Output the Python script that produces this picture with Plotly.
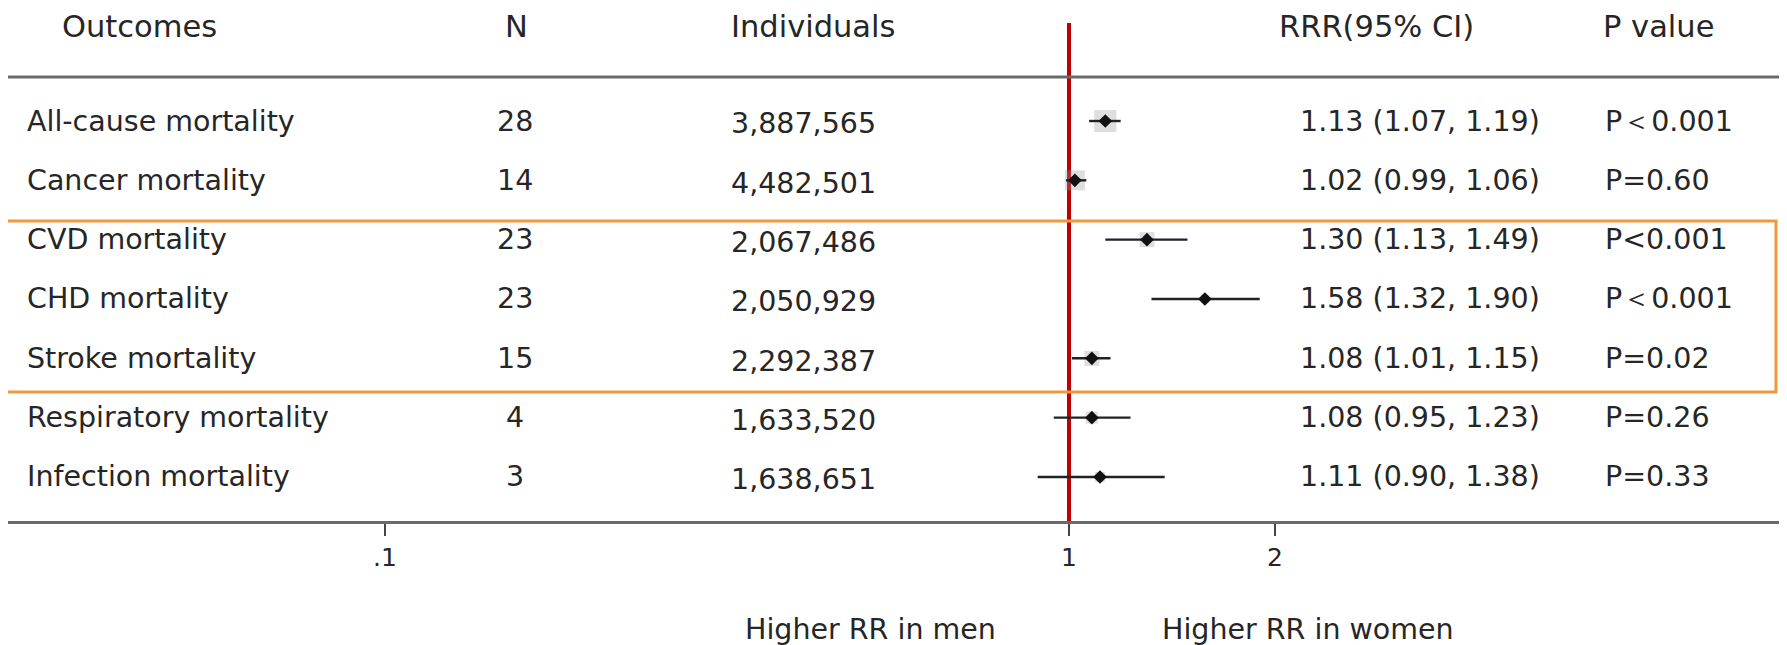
import plotly.graph_objects as go

# ---------------- data ----------------
outcomes = ["All-cause mortality", "Cancer mortality", "CVD mortality", "CHD mortality",
            "Stroke mortality", "Respiratory mortality", "Infection mortality"]
n_studies = ["28", "14", "23", "23", "15", "4", "3"]
individuals = ["3,887,565", "4,482,501", "2,067,486", "2,050,929", "2,292,387", "1,633,520", "1,638,651"]
rrr = [1.13, 1.02, 1.30, 1.58, 1.08, 1.08, 1.11]
ci_low = [1.07, 0.99, 1.13, 1.32, 1.01, 0.95, 0.90]
ci_high = [1.19, 1.06, 1.49, 1.90, 1.15, 1.23, 1.38]
p_values = ["P\uff1c0.001", "P=0.60", "P<0.001", "P\uff1c0.001", "P=0.02", "P=0.26", "P=0.33"]
headers = ["Outcomes", "N", "Individuals", "RRR(95% CI)", "P value"]
tick_vals = [0.1, 1, 2]
tick_text = [".1", "1", "2"]
side_labels = ["Higher RR in men", "Higher RR in women"]

# ---------------- layout helpers ----------------
# the page body has an 8px margin, so the figure is drawn 8px smaller and all
# target page positions are shifted by that offset
OFF = 8
PAGE_W, PAGE_H = 1787, 645
W, H = PAGE_W - OFF, PAGE_H - OFF
ROW0, ROWSTEP = 121, 59.33          # page pixel of first row, row spacing
PX_PER_DECADE, X_ONE = 684.0, 1069.0  # page pixel of RR = 1


def py(p):  # page pixel row -> y data
    return (p - ROW0) / ROWSTEP


def px_paper(x):
    return (x - OFF) / W


def py_paper(y):
    return 1 - (y - OFF) / H


FONT = "DejaVu Sans"
TXT = "#262626"
BODY = 28.5
HEAD = 30.5

fig = go.Figure()

box_sizes = [22, 20, 15, 8, 15, 12, 10]
rows = list(range(len(outcomes)))
ci_labels = [f"{r:.2f} ({l:.2f}, {h:.2f})" for r, l, h in zip(rrr, ci_low, ci_high)]

# reference line at RR = 1
fig.add_trace(go.Scatter(x=[1, 1], y=[py(23), py(522)], mode="lines",
                         line=dict(color="#bf0000", width=4), hoverinfo="skip"))

# weight boxes (grey squares)
fig.add_trace(go.Scatter(x=rrr, y=rows, mode="markers",
                         marker=dict(symbol="square", size=box_sizes, color="rgba(150,150,150,0.45)",
                                     line=dict(width=0)), hoverinfo="skip"))

# CI whiskers
for i in rows:
    fig.add_trace(go.Scatter(x=[ci_low[i], ci_high[i]], y=[i, i], mode="lines",
                             line=dict(color="#222222", width=2.4), hoverinfo="skip"))

# point estimates
fig.add_trace(go.Scatter(x=rrr, y=rows, mode="markers",
                         marker=dict(symbol="diamond", size=10.5, color="#111111"), hoverinfo="skip"))

annotations = []


def add_text(text, x_px, y, anchor="left", size=BODY, yref="y"):
    annotations.append(dict(text=text, x=px_paper(x_px), xref="paper", y=y, yref=yref,
                            xanchor=anchor, yanchor="middle", showarrow=False,
                            font=dict(family=FONT, size=size, color=TXT)))


# headers
hy = py_paper(27)
add_text(headers[0], 60, hy, "left", HEAD, "paper")
add_text(headers[1], 517, hy, "center", HEAD, "paper")
add_text(headers[2], 729, hy, "left", HEAD, "paper")
add_text(headers[3], 1376, hy, "center", HEAD, "paper")
add_text(headers[4], 1601, hy, "left", HEAD, "paper")

# table body
for i in rows:
    add_text(outcomes[i], 25, i, "left")
    add_text(n_studies[i], 515, i, "center")
    add_text(individuals[i], 729, i + 0.05, "left")
    add_text(ci_labels[i], 1298, i, "left")
    add_text(p_values[i], 1603, i, "left")

# bottom side labels
add_text(side_labels[0], 743, py_paper(629), "left", BODY, "paper")
add_text(side_labels[1], 1160, py_paper(629), "left", BODY, "paper")

shapes = [
    # top rule
    dict(type="line", xref="paper", yref="paper", x0=0, x1=1, y0=py_paper(77), y1=py_paper(77),
         line=dict(color="#6a6a6a", width=3)),
    # highlight box (orange)
    dict(type="rect", xref="paper", yref="paper", x0=-0.01, x1=px_paper(1776),
         y0=py_paper(392), y1=py_paper(221), line=dict(color="#ee9a3a", width=3)),
]

fig.update_layout(
    width=W, height=H,
    margin=dict(l=0, r=0, t=0, b=0),
    paper_bgcolor="white", plot_bgcolor="white",
    showlegend=False,
    annotations=annotations,
    shapes=shapes,
    xaxis=dict(type="log",
               range=[-(X_ONE - OFF) / PX_PER_DECADE, (PAGE_W - X_ONE) / PX_PER_DECADE],
               showgrid=False, zeroline=False,
               showline=True, linecolor="#6a6a6a", linewidth=3,
               anchor="free", position=py_paper(522),
               ticks="outside", ticklen=12, tickwidth=2, tickcolor="#444444",
               tickvals=tick_vals, ticktext=tick_text,
               tickfont=dict(family=FONT, size=25, color=TXT)),
    yaxis=dict(range=[py(PAGE_H), py(OFF)], visible=False, showgrid=False, zeroline=False),
)

fig.write_html("out.html")
